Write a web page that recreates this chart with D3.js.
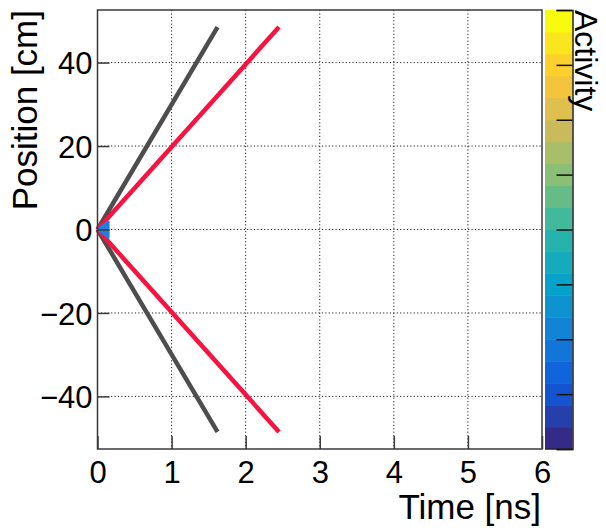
<!DOCTYPE html>
<html>
<head>
<meta charset="utf-8">
<script src="https://cdn.jsdelivr.net/npm/d3@7"></script>
<style>
  html, body { margin: 0; padding: 0; background: #fff; }
  svg { display: block; }
  text { font-family: "Liberation Sans", Arial, sans-serif; fill: #000; }
</style>
</head>
<body>
<svg id="chart" width="606" height="528"></svg>
<script>
// ---- data ----
const xTicks = [0, 1, 2, 3, 4, 5, 6];
const yTicks = [-40, -20, 0, 20, 40];
const xTitle = "Time [ns]";
const yTitle = "Position [cm]";
const zTitle = "Activity";
// tracks: [time ns, position cm]
const grayUp    = [[0, 0], [1.62, 48.5]];
const grayDown  = [[0, 0], [1.62, -48.5]];
const redUp     = [[0, 0], [2.45, 48.5]];
const redDown   = [[0, 0], [2.45, -48.5]];
const blueBlob  = [[0.15, 2.0], [0, 0], [0.15, -2.0], [0.15, 2.0]];
// colour bar (kBird palette stops)
const birdR = [0.2082, 0.0592, 0.0780, 0.0232, 0.1802, 0.5301, 0.8186, 0.9956, 0.9764];
const birdG = [0.1664, 0.3599, 0.5041, 0.6419, 0.7178, 0.7492, 0.7328, 0.7862, 0.9832];
const birdB = [0.5293, 0.8684, 0.8385, 0.7914, 0.6425, 0.4662, 0.3499, 0.1968, 0.0539];
const nBands = 20;
const zTicks = [0, 1, 2, 3, 4, 5, 6, 7, 8];

// ---- layout ----
const L = 97.5, R = 542, T = 10, B = 449;
const cbL = 545, cbR = 572.5;

const svg = d3.select("#chart");
const x = d3.scaleLinear().domain([0, 6]).range([L, R]);
const y = d3.scaleLinear().domain([-52.6, 52.6]).range([B, T]);
const frameColor = "#3a3a3a";

// grid
svg.append("g").selectAll("line").data(xTicks.filter(d => d > 0 && d < 6)).join("line")
  .attr("x1", d => x(d)).attr("x2", d => x(d)).attr("y1", T).attr("y2", B)
  .attr("stroke", "#222").attr("stroke-width", 1).attr("stroke-dasharray", "1.2,2.2");
svg.append("g").selectAll("line").data(yTicks).join("line")
  .attr("y1", d => y(d)).attr("y2", d => y(d)).attr("x1", L).attr("x2", R)
  .attr("stroke", "#222").attr("stroke-width", 1).attr("stroke-dasharray", "1.2,2.2");

// tracks
const line = d3.line().x(d => x(d[0])).y(d => y(d[1]));
const tracks = [
  [grayUp, "#4d4d4d"], [grayDown, "#4d4d4d"],
  [redUp, "#f8123f"], [redDown, "#f8123f"]
];
svg.append("g").selectAll("path").data(tracks).join("path")
  .attr("d", d => line(d[0])).attr("fill", "none")
  .attr("stroke", d => d[1]).attr("stroke-width", 4.5).attr("stroke-linecap", "butt");
svg.append("path").attr("d", line(blueBlob))
  .attr("fill", "#1f7fe0").attr("stroke", "#1f7fe0").attr("stroke-width", 2)
  .attr("stroke-linejoin", "round");

// frame
svg.append("rect").attr("x", L).attr("y", T).attr("width", R - L).attr("height", B - T)
  .attr("fill", "none").attr("stroke", frameColor).attr("stroke-width", 1.5);

// axes
const xAxis = d3.axisBottom(x).tickValues(xTicks).tickSize(-13).tickPadding(0).tickFormat(d3.format("d"));
const gx = svg.append("g").attr("transform", `translate(0,${B})`).call(xAxis);
gx.select(".domain").remove();
gx.selectAll(".tick line").attr("stroke", frameColor).attr("stroke-width", 1.5);
gx.selectAll(".tick text").attr("font-size", 31).attr("dy", null).attr("y", 34)
  .style("font-family", "Liberation Sans, Arial, sans-serif");

const yAxis = d3.axisLeft(y).tickValues(yTicks).tickSize(-12).tickPadding(0)
  .tickFormat(d => d < 0 ? "\u2212" + Math.abs(d) : String(d));
const gy = svg.append("g").attr("transform", `translate(${L},0)`).call(yAxis);
gy.select(".domain").remove();
gy.selectAll(".tick line").attr("stroke", frameColor).attr("stroke-width", 1.5);
gy.selectAll(".tick text").attr("font-size", 31).attr("x", -5).attr("dy", "0.36em")
  .style("font-family", "Liberation Sans, Arial, sans-serif");

// titles
svg.append("text").attr("x", R - 1).attr("y", 519).attr("text-anchor", "end")
  .attr("font-size", 35).text(xTitle);
svg.append("text").attr("transform", `translate(37,${T}) rotate(-90)`).attr("text-anchor", "end")
  .attr("font-size", 35).text(yTitle);

// colour bar
const stops = birdR.map((r, i) => d3.rgb(r * 255, birdG[i] * 255, birdB[i] * 255));
const pal = d3.scaleLinear().domain(stops.map((_, i) => i / (stops.length - 1))).range(stops)
  .interpolate(d3.interpolateRgb);
const band = d3.scaleBand().domain(d3.range(nBands)).range([B, T]);
svg.append("g").selectAll("rect").data(d3.range(nBands)).join("rect")
  .attr("x", cbL).attr("width", cbR - cbL)
  .attr("y", d => band(d)).attr("height", band.bandwidth() + 0.5)
  .attr("fill", d => pal(d / (nBands - 1)));
const z = d3.scaleLinear().domain([0, 8]).range([B, T]);
const zAxis = d3.axisRight(z).tickValues(zTicks).tickSize(-16).tickFormat("");
const gz = svg.append("g").attr("transform", `translate(${cbR},0)`).call(zAxis);
gz.select(".domain").attr("stroke", "#222").attr("stroke-width", 1.5);
gz.selectAll(".tick line").attr("stroke", "#111").attr("stroke-width", 1.5);
svg.append("line").attr("x1", cbL).attr("x2", cbR).attr("y1", B).attr("y2", B)
  .attr("stroke", "#222").attr("stroke-width", 1.2);
svg.append("text").attr("transform", `translate(575,${T}) rotate(90)`).attr("text-anchor", "start")
  .attr("font-size", 32).text(zTitle);
</script>
</body>
</html>
